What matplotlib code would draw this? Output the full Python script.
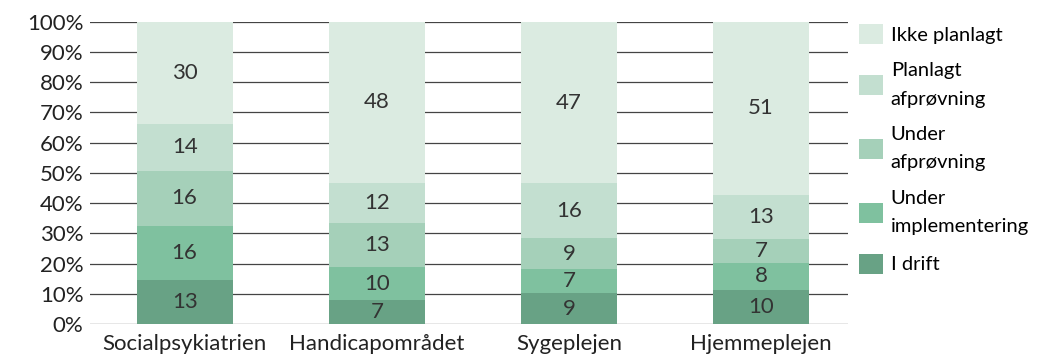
import matplotlib.pyplot as plt
import numpy as np

plt.rcParams['font.family'] = ['Lato', 'DejaVu Sans']

omraader = ['Socialpsykiatrien', 'Handicapområdet', 'Sygeplejen', 'Hjemmeplejen']
i_drift = [13, 7, 9, 10]
under_impl = [16, 10, 7, 8]
under_afpr = [16, 13, 9, 7]
planlagt_afpr = [14, 12, 16, 13]
ikke_planlagt = [30, 48, 47, 51]

serier = [
    ('I drift', i_drift, '#68a285'),
    ('Under\nimplementering', under_impl, '#7fc19f'),
    ('Under\nafprøvning', under_afpr, '#a5d0b9'),
    ('Planlagt\nafprøvning', planlagt_afpr, '#c3dfd0'),
    ('Ikke planlagt', ikke_planlagt, '#dbebe1'),
]

tal = np.array([s[1] for s in serier], dtype=float)
total = tal.sum(axis=0)
andel = tal / total * 100

fig = plt.figure(figsize=(10.4, 3.58), dpi=100)
ax = fig.add_axes([0.087, 0.095, 0.728, 0.844])

x = np.arange(len(omraader))
bund = np.zeros(len(omraader))
handles = []
for (navn, vaerdier, farve), pct in zip(serier, andel):
    b = ax.bar(x, pct, 0.5, bottom=bund, color=farve, label=navn, zorder=3)
    handles.append(b)
    for xi, v, p, b0 in zip(x, vaerdier, pct, bund):
        ax.text(xi, b0 + p / 2, str(v), ha='center', va='center',
                fontsize=16, color='#333333', zorder=4)
    bund += pct

ax.set_ylim(0, 100)
ax.set_xlim(-0.49, 3.45)
ax.set_yticks(np.arange(0, 101, 10))
ax.set_yticklabels([f'{t}%' for t in range(0, 101, 10)])
ax.set_xticks(x)
ax.set_xticklabels(omraader)
ax.grid(axis='y', color='#444444', linewidth=0.9, zorder=0)
for s in ax.spines.values():
    s.set_visible(False)
ax.tick_params(axis='both', length=0, labelsize=16, colors='#222222')
ax.tick_params(axis='y', pad=5)
ax.tick_params(axis='x', pad=7)

leg = ax.legend(handles[::-1], [s[0] for s in serier][::-1],
                loc='upper left', bbox_to_anchor=(1.005, 1.02), frameon=False,
                fontsize=14.5, handlelength=1.15, handleheight=1.15,
                handletextpad=0.4, labelspacing=0.92, borderaxespad=0)
for t in leg.get_texts():
    t.set_linespacing(1.8)

fig.savefig('out.png', dpi=100)
